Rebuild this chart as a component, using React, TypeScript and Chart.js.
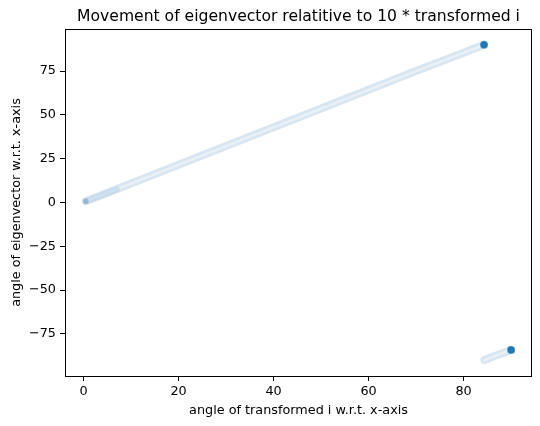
import React, { useEffect, useRef } from "react";
import { Chart, registerables } from "chart.js";

Chart.register(...registerables);

const TITLE = "Movement of eigenvector relatitive to 10 * transformed i";
const X_LABEL = "angle of transformed i w.r.t. x-axis";
const Y_LABEL = "angle of eigenvector w.r.t. x-axis";

// main band (upper branch)
const bandAX = [0.5, 10, 20, 30, 40, 50, 60, 70, 80, 84.3];
const bandAY = [0.7, 10.8, 21.5, 32.2, 42.9, 53.6, 64.3, 75.0, 85.4, 90.0];
// wrapped band (lower branch)
const bandBX = [84.4, 87.0, 90.0];
const bandBY = [-89.9, -87.1, -84.1];
// slightly denser start of the band
const headX = [0.5, 3.0, 7.0];
const headY = [0.7, 3.3, 7.5];
// highlighted points
const startX = [0.5];
const startY = [0.7];
const endX = [84.3, 90.0];
const endY = [90.0, -84.1];

const xTicks = [0, 20, 40, 60, 80];
const yTicks = [-75, -50, -25, 0, 25, 50, 75];
const xRange = [-3.9, 94.4];
const yRange = [-99, 99];

const zip = (xs: number[], ys: number[]) => xs.map((x, i) => ({ x, y: ys[i] }));

const FONT = "DejaVu Sans";

export default function App() {
  const ref = useRef<HTMLCanvasElement | null>(null);

  useEffect(() => {
    if (!ref.current) return;
    const framePlugin = {
      id: "frameAndText",
      afterDraw(chart: any) {
        const { ctx, chartArea } = chart;
        ctx.save();
        ctx.strokeStyle = "#000";
        ctx.lineWidth = 1;
        ctx.strokeRect(
          Math.round(chartArea.left) + 0.5,
          Math.round(chartArea.top) + 0.5,
          Math.round(chartArea.right - chartArea.left) - 1,
          Math.round(chartArea.bottom - chartArea.top)
        );
        const cx = (chartArea.left + chartArea.right) / 2;
        ctx.fillStyle = "#000";
        ctx.textAlign = "center";
        ctx.textBaseline = "alphabetic";
        ctx.font = `15.6px "${FONT}"`;
        ctx.fillText(TITLE, cx, 21);
        ctx.font = `12.8px "${FONT}"`;
        ctx.fillText(X_LABEL, cx, 414);
        ctx.translate(19.5, (chartArea.top + chartArea.bottom) / 2);
        ctx.rotate(-Math.PI / 2);
        ctx.fillText(Y_LABEL, 0, 0);
        ctx.restore();
      },
    };

    const minus = (v: any) => String(v).replace("-", "\u2212");

    const chart = new Chart(ref.current, {
      type: "scatter",
      data: {
        datasets: [
          {
            data: zip(endX, endY),
            pointRadius: 4,
            pointBackgroundColor: "#1f77b4",
            pointBorderColor: "rgba(255,255,255,0.6)",
            pointBorderWidth: 0.5,
            showLine: false,
            order: 0,
          },
          {
            data: zip(startX, startY),
            pointRadius: 3,
            pointBackgroundColor: "rgba(110,150,185,0.55)",
            pointBorderColor: "rgba(255,255,255,0.4)",
            pointBorderWidth: 0.5,
            showLine: false,
            order: 1,
          },
          {
            data: zip(headX, headY),
            showLine: true,
            pointRadius: 0,
            borderColor: "rgba(175,205,228,0.45)",
            borderWidth: 6,
            borderCapStyle: "round",
            order: 2,
          },
          {
            data: zip(bandAX, bandAY),
            showLine: true,
            pointRadius: 0,
            borderColor: "#e9f1f7",
            borderWidth: 2.5,
            borderCapStyle: "round",
            order: 3,
          },
          {
            data: zip(bandBX, bandBY),
            showLine: true,
            pointRadius: 0,
            borderColor: "#e9f1f7",
            borderWidth: 2.5,
            borderCapStyle: "round",
            order: 3,
          },
          {
            data: zip(bandAX, bandAY),
            showLine: true,
            pointRadius: 0,
            borderColor: "#d9e6f1",
            borderWidth: 8,
            borderCapStyle: "round",
            order: 4,
          },
          {
            data: zip(bandBX, bandBY),
            showLine: true,
            pointRadius: 0,
            borderColor: "#d9e6f1",
            borderWidth: 8,
            borderCapStyle: "round",
            order: 4,
          },
        ],
      },
      options: {
        responsive: false,
        animation: false,
        devicePixelRatio: 1,
        layout: { padding: { top: 29, right: 8, left: 0, bottom: 0 } },
        plugins: {
          legend: { display: false },
          tooltip: { enabled: false },
          title: { display: false },
        },
        scales: {
          x: {
            type: "linear",
            min: xRange[0],
            max: xRange[1],
            afterBuildTicks: (scale: any) => {
              scale.ticks = xTicks.map((v) => ({ value: v }));
            },
            afterFit: (scale: any) => {
              scale.height = 50;
            },
            border: { display: false },
            grid: {
              display: true,
              drawOnChartArea: false,
              drawTicks: true,
              tickLength: 5,
              tickWidth: 1,
              tickColor: "#000",
              color: "#000",
            },
            ticks: {
              color: "#000",
              font: { family: FONT, size: 12.8 },
              padding: 3,
              maxRotation: 0,
              autoSkip: false,
              callback: minus,
            },
          },
          y: {
            type: "linear",
            min: yRange[0],
            max: yRange[1],
            afterBuildTicks: (scale: any) => {
              scale.ticks = yTicks.map((v) => ({ value: v }));
            },
            afterFit: (scale: any) => {
              scale.width = 65;
            },
            border: { display: false },
            grid: {
              display: true,
              drawOnChartArea: false,
              drawTicks: true,
              tickLength: 5,
              tickWidth: 1,
              tickColor: "#000",
              color: "#000",
            },
            ticks: {
              color: "#000",
              font: { family: FONT, size: 12.8 },
              padding: 4,
              autoSkip: false,
              callback: minus,
            },
          },
        },
      },
      plugins: [framePlugin],
    } as any);
    return () => chart.destroy();
  }, []);

  return (
    <div style={{ position: "fixed", left: 0, top: 0, width: 540, height: 426, background: "#fff" }}>
      <canvas ref={ref} width={540} height={426} style={{ width: 540, height: 426 }} />
    </div>
  );
}
